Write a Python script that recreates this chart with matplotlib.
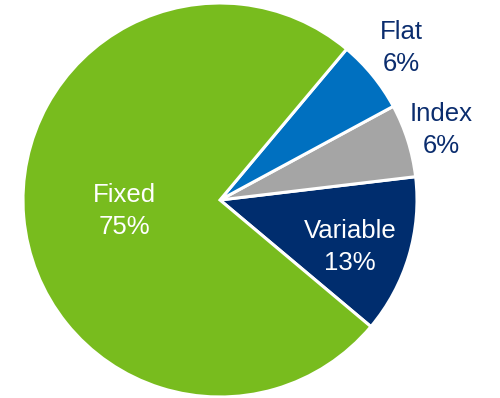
import matplotlib
matplotlib.use("Agg")
import matplotlib.pyplot as plt

# data
labels = ["Variable", "Index", "Flat", "Fixed"]
shares = [13, 6, 6, 75]
colors = ["#002D6E", "#A5A5A5", "#0070C0", "#78BC1E"]

plt.rcParams["font.family"] = ["Liberation Sans", "DejaVu Sans"]

fig = plt.figure(figsize=(5, 3.98), dpi=100)
ax = fig.add_axes([0, 0, 1, 1])
ax.set_xlim(0, 500)
ax.set_ylim(0, 398)
ax.set_aspect("equal")
ax.axis("off")

wedges, _ = ax.pie(shares, colors=colors, startangle=-40, counterclock=True,
                   radius=197, center=(220, 198),
                   wedgeprops=dict(edgecolor="white", linewidth=2.2))
ax.set_xlim(0, 500)
ax.set_ylim(0, 398)

fs = 18.5
navy = "#0B2D6E"
# label positions (pixel coords, y from bottom)
pos = {"Fixed": (124, 187, "white"),
       "Variable": (350, 151, "white"),
       "Flat": (401, 350, navy),
       "Index": (441, 268, navy)}
for lab, val in zip(labels, shares):
    x, y, c = pos[lab]
    ax.text(x, y, f"{lab}\n{val}%", ha="center", va="center", fontsize=fs,
            color=c, linespacing=1.42)

fig.savefig("out.png", dpi=100)
